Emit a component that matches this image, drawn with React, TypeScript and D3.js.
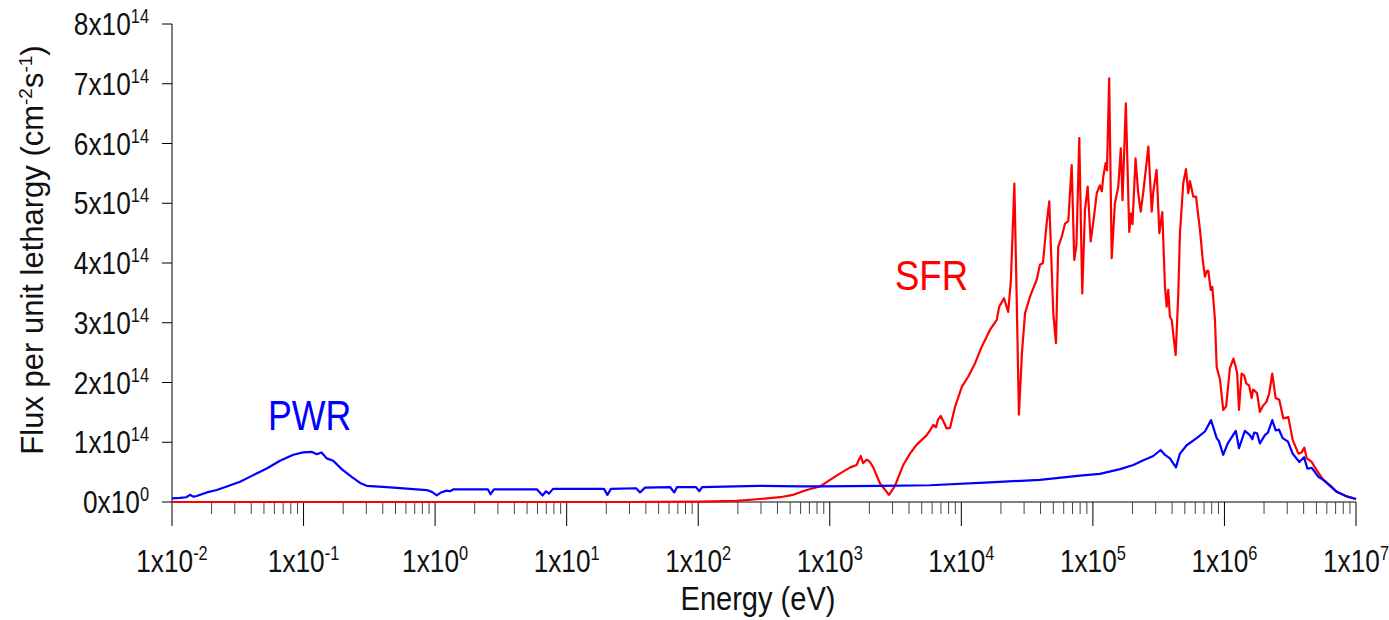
import React from "react";
import * as d3 from "d3";

// Neutron flux per unit lethargy, in units of 1e14 cm^-2 s^-1, versus energy (eV)
const FLUX_UNIT = 1e14;

const pwrEnergy = [
  0.01, 0.0115, 0.0128, 0.0137, 0.0145, 0.0154, 0.0184, 0.0219, 0.0261, 0.0329,
  0.0415, 0.0525, 0.0662, 0.0836, 0.0995, 0.115, 0.126, 0.137, 0.15, 0.168,
  0.195, 0.232, 0.269, 0.302, 0.429, 0.644, 0.863, 0.946, 1.03, 1.11,
  1.22, 1.3, 1.37, 2.52, 2.64, 2.8, 5.95, 6.57, 6.97, 7.34,
  7.87, 19.2, 20.4, 21.7, 33.7, 36.1, 39.4, 61.0, 65.8, 69.0,
  96.2, 102, 107, 287, 595, 844, 2410, 5780, 16500, 39600,
  79800, 113000, 161000, 203000, 242000, 288000, 327000, 353000, 385000, 428000,
  459000, 516000, 615000, 711000, 791000, 873000, 908000, 979000, 1.06e6, 1.22e6,
  1.29e6, 1.43e6, 1.56e6, 1.63e6, 1.68e6, 1.77e6, 1.86e6, 2.03e6, 2.14e6, 2.31e6,
  2.45e6, 2.6e6, 2.77e6, 3.04e6, 3.3e6, 3.71e6, 4.03e6, 4.27e6, 4.61e6, 5.18e6,
  5.65e6, 7.14e6, 8.4e6, 1e7,
];
const pwrFlux = [
  0.06, 0.07, 0.08, 0.12, 0.09, 0.1, 0.16, 0.2, 0.26, 0.34,
  0.45, 0.56, 0.69, 0.79, 0.83, 0.84, 0.8, 0.83, 0.73, 0.69,
  0.55, 0.42, 0.32, 0.27, 0.25, 0.22, 0.2, 0.17, 0.11, 0.16,
  0.19, 0.18, 0.21, 0.21, 0.13, 0.21, 0.21, 0.11, 0.18, 0.14,
  0.22, 0.22, 0.12, 0.22, 0.23, 0.16, 0.24, 0.25, 0.16, 0.25,
  0.25, 0.18, 0.25, 0.27, 0.26, 0.26, 0.27, 0.28, 0.33, 0.37,
  0.44, 0.47, 0.55, 0.62, 0.7, 0.77, 0.87, 0.79, 0.73, 0.58,
  0.81, 0.95, 1.07, 1.18, 1.37, 1.07, 1.02, 0.79, 0.98, 1.19,
  0.9, 1.19, 1.12, 1.05, 1.16, 1.15, 0.98, 1.12, 1.16, 1.37,
  1.2, 1.21, 1.07, 1.01, 0.81, 0.67, 0.75, 0.56, 0.57, 0.42,
  0.37, 0.17, 0.1, 0.05,
];

const sfrEnergy = [
  0.01, 30, 103, 196, 294, 418, 528, 667, 844, 1004,
  1200, 1430, 1600, 1660, 1720, 1790, 1910, 2020, 2140, 2410,
  2820, 3130, 3620, 4070, 4580, 5460, 5780, 6130, 6420, 6650,
  6970, 7380, 7740, 8200, 8950, 10100, 11300, 12700, 14300, 16500,
  18600, 19400, 21100, 22700, 23800, 25300, 26300, 27400, 28900, 30500,
  33300, 37400, 39600, 41700, 44500, 46600, 50000, 52400, 54500, 58200,
  61400, 65000, 69000, 72200, 75000, 78800, 83000, 87100, 91300, 96200,
  101000, 107000, 113000, 117000, 120000, 125000, 128000, 133000, 139000, 147000,
  156000, 163000, 168000, 178000, 189000, 195000, 200000, 211000, 221000, 231000,
  242000, 264000, 280000, 288000, 305000, 320000, 337000, 353000, 364000, 374000,
  385000, 397000, 426000, 446000, 459000, 486000, 510000, 531000, 547000, 580000,
  608000, 627000, 652000, 684000, 711000, 736000, 754000, 786000, 809000, 847000,
  873000, 925000, 979000, 1.03e6, 1.1e6, 1.17e6, 1.22e6, 1.25e6, 1.29e6, 1.35e6,
  1.41e6, 1.47e6, 1.54e6, 1.61e6, 1.65e6, 1.72e6, 1.77e6, 1.86e6, 1.95e6, 2.09e6,
  2.19e6, 2.31e6, 2.45e6, 2.61e6, 2.8e6, 3.06e6, 3.3e6, 3.65e6, 3.86e6, 4.05e6,
  4.22e6, 4.61e6, 5.03e6, 5.65e6, 6.35e6, 7.14e6, 8.51e6, 1e7,
];
const sfrFlux = [
  0, 0, 0.005, 0.02, 0.05, 0.08, 0.12, 0.2, 0.26, 0.37,
  0.48, 0.58, 0.62, 0.7, 0.77, 0.65, 0.71, 0.67, 0.58, 0.31,
  0.12, 0.27, 0.62, 0.81, 0.96, 1.12, 1.2, 1.29, 1.25, 1.38,
  1.44, 1.33, 1.23, 1.24, 1.59, 1.93, 2.1, 2.32, 2.6, 2.88,
  3.05, 3.27, 3.41, 3.18, 3.7, 5.33, 3.5, 1.46, 2.5, 3.16,
  3.44, 3.72, 3.97, 4.0, 4.66, 5.03, 3.16, 2.66, 4.27, 4.45,
  4.66, 4.7, 5.64, 4.05, 4.3, 6.09, 3.49, 4.89, 5.28, 4.36,
  4.7, 5.17, 5.3, 5.2, 5.45, 5.67, 5.55, 7.09, 4.08, 5.0,
  5.28, 5.92, 5.05, 6.67, 4.52, 4.83, 4.65, 5.75, 5.17, 4.86,
  5.2, 5.95, 4.86, 5.2, 5.56, 4.5, 4.85, 3.6, 3.27, 3.55,
  3.1, 3.05, 2.46, 3.5, 4.5, 5.33, 5.57, 5.17, 5.37, 5.11,
  5.11, 4.86, 4.55, 4.05, 3.77, 3.87, 3.87, 3.55, 3.6, 3.05,
  2.26, 2.05, 1.54, 1.6, 2.24, 2.4, 2.26, 2.15, 1.54, 2.15,
  2.12, 1.98, 1.95, 1.74, 1.88, 1.85, 1.82, 1.51, 1.6, 1.68,
  1.82, 2.15, 1.74, 1.71, 1.4, 1.42, 1.04, 0.81, 0.83, 0.91,
  0.73, 0.67, 0.53, 0.37, 0.28, 0.17, 0.09, 0.05,
];

const yTickValues = [0, 1, 2, 3, 4, 5, 6, 7, 8];
const xDecadeExponents = [-2, -1, 0, 1, 2, 3, 4, 5, 6, 7];

const WIDTH = 1389;
const HEIGHT = 620;
const FONT = "'Liberation Sans', Arial, Helvetica, sans-serif";
const SQUEEZE = 0.82;

export default function App() {
  const x = d3.scaleLog().domain([1e-2, 1e7]).range([172, 1356]);
  const y = d3.scaleLinear().domain([0, 8 * FLUX_UNIT]).range([502, 24]);

  const line = d3
    .line<[number, number]>()
    .x((d) => x(d[0]))
    .y((d) => y(d[1] * FLUX_UNIT));

  const pwr: [number, number][] = pwrEnergy.map((e, i) => [e, pwrFlux[i]]);
  const sfr: [number, number][] = sfrEnergy.map((e, i) => [e, sfrFlux[i]]);

  const minorTicks: number[] = [];
  for (let p = -2; p < 7; p++) {
    for (let k = 2; k <= 9; k++) minorTicks.push(k * Math.pow(10, p));
  }

  const y0 = y(0);

  return (
    <svg
      width={WIDTH}
      height={HEIGHT}
      style={{ position: "absolute", left: 0, top: 0, background: "#fff" }}
      fontFamily={FONT}
    >
      {/* y axis */}
      <line x1={172} x2={172} y1={y(8 * FLUX_UNIT)} y2={y0} stroke="#000" strokeWidth={1} />
      {yTickValues.map((v) => (
        <g key={"yt" + v}>
          <line x1={162} x2={172} y1={y(v * FLUX_UNIT)} y2={y(v * FLUX_UNIT)} stroke="#000" />
          <g transform={`translate(149, ${y(v * FLUX_UNIT) + 11}) scale(${SQUEEZE},1)`}>
            <text textAnchor="end" fontSize={32} fill="#111">
              {v}x10
              <tspan dy={-12} fontSize={20}>
                {v === 0 ? "0" : "14"}
              </tspan>
            </text>
          </g>
        </g>
      ))}

      {/* x axis */}
      <line x1={172} x2={1356} y1={y0} y2={y0} stroke="#000" strokeWidth={1} />
      {minorTicks.map((t, i) => (
        <line key={"mt" + i} x1={x(t)} x2={x(t)} y1={y0} y2={y0 + 12} stroke="#444" />
      ))}
      {xDecadeExponents.map((p) => (
        <g key={"xt" + p}>
          <line x1={x(Math.pow(10, p))} x2={x(Math.pow(10, p))} y1={y0} y2={y0 + 24} stroke="#000" />
          <g transform={`translate(${x(Math.pow(10, p))}, 572) scale(${SQUEEZE},1)`}>
            <text textAnchor="middle" fontSize={32} fill="#111">
              1x10
              <tspan dy={-12} fontSize={20}>
                {p < 0 ? "-" + Math.abs(p) : String(p)}
              </tspan>
            </text>
          </g>
        </g>
      ))}

      {/* axis titles */}
      <g transform={`translate(758, 610) scale(0.88,1)`}>
        <text textAnchor="middle" fontSize={33} fill="#111">
          Energy (eV)
        </text>
      </g>
      <g transform={`translate(43, 250) rotate(-90)`}>
        <text textAnchor="middle" fontSize={31} fill="#111">
          Flux per unit lethargy (cm
          <tspan dy={-11} fontSize={19}>
            -2
          </tspan>
          <tspan dy={11}>s</tspan>
          <tspan dy={-11} fontSize={19}>
            -1
          </tspan>
          <tspan dy={11}>)</tspan>
        </text>
      </g>

      {/* spectra */}
      <path d={line(sfr) || ""} fill="none" stroke="#ff0000" strokeWidth={2.2} strokeLinejoin="round" />
      <path d={line(pwr) || ""} fill="none" stroke="#0000ff" strokeWidth={2.2} strokeLinejoin="round" />

      {/* series labels */}
      <g transform={`translate(268, 430) scale(0.85,1)`}>
        <text fontSize={42} fill="#0000ff">
          PWR
        </text>
      </g>
      <g transform={`translate(895, 290) scale(0.87,1)`}>
        <text fontSize={42} fill="#ff0000">
          SFR
        </text>
      </g>
    </svg>
  );
}
